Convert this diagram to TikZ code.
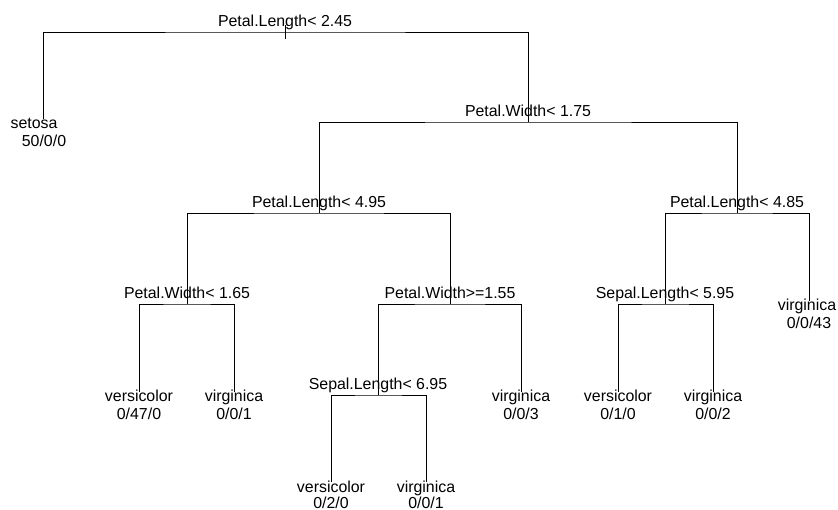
\documentclass[tikz,border=0pt]{standalone}
\usepackage{fontspec}
\setmainfont{Liberation Sans}
\usetikzlibrary{positioning}

\begin{document}
\begin{tikzpicture}[
x=1pt, y=-1pt,
every node/.style={font=\fontsize{15.9}{19}\selectfont, inner sep=0pt},
split/.style={anchor=base, yshift=5pt},
leaf/.style={anchor=base, yshift=-10pt},
count/.style={anchor=base, yshift=-28pt},
branch/.style={line width=0.85pt}
]
\useasboundingbox (0,0) rectangle (838,510);

% split points
\coordinate (root) at (285,32);
\coordinate (pw175) at (528,122);
\coordinate (pl495) at (319,213);
\coordinate (pl485) at (737,213);
\coordinate (pw165) at (187,304);
\coordinate (pw155) at (450,304);
\coordinate (sl595) at (665,304);
\coordinate (sl695) at (378,395);

% leaves
\coordinate (setosa) at (43,119);
\coordinate (virg43) at (809,301);
\coordinate (vers47) at (139,392);
\coordinate (virg1a) at (234,392);
\coordinate (virg3) at (521,392);
\coordinate (vers1) at (618,392);
\coordinate (virg2) at (713,392);
\coordinate (vers2) at (331,482);
\coordinate (virg1b) at (426,482);

\coordinate (rtop) at (285,25);
\coordinate (rbot) at (285,39);

\draw[branch] (rtop) -- (rbot);
\draw[branch] (setosa) |- (root) -| (pw175);
\draw[branch] (pl495) |- (pw175) -| (pl485);
\draw[branch] (pw165) |- (pl495) -| (pw155);
\draw[branch] (sl595) |- (pl485) -| (virg43);
\draw[branch] (vers47) |- (pw165) -| (virg1a);
\draw[branch] (sl695) |- (pw155) -| (virg3);
\draw[branch] (vers1) |- (sl595) -| (virg2);
\draw[branch] (vers2) |- (sl695) -| (virg1b);

\node[split] (lroot) at (root) {Petal.Length< 2.45};
\node[split] (lpw175) at (pw175) {Petal.Width< 1.75};
\node[split] (lpl495) at (pl495) {Petal.Length< 4.95};
\node[split] (lpl485) at (pl485) {Petal.Length< 4.85};
\node[split] (lpw165) at (pw165) {Petal.Width< 1.65};
\node[split] (lpw155) at (pw155) {Petal.Width>=1.55};
\node[split] (lsl595) at (sl595) {Sepal.Length< 5.95};
\node[split] (lsl695) at (sl695) {Sepal.Length< 6.95};

\node[leaf, xshift=-9pt] (tsetosa) at (setosa) {setosa};
\node[count, xshift=1pt] (nsetosa) at (setosa) {50/0/0};
\node[leaf, xshift=-2pt] (tvirg43) at (virg43) {virginica};
\node[count] (nvirg43) at (virg43) {0/0/43};
\node[leaf] (tvers47) at (vers47) {versicolor};
\node[count] (nvers47) at (vers47) {0/47/0};
\node[leaf] (tvirg1a) at (virg1a) {virginica};
\node[count] (nvirg1a) at (virg1a) {0/0/1};
\node[leaf] (tvirg3) at (virg3) {virginica};
\node[count] (nvirg3) at (virg3) {0/0/3};
\node[leaf] (tvers1) at (vers1) {versicolor};
\node[count] (nvers1) at (vers1) {0/1/0};
\node[leaf] (tvirg2) at (virg2) {virginica};
\node[count] (nvirg2) at (virg2) {0/0/2};
\node[leaf] (tvers2) at (vers2) {versicolor};
\node[count, yshift=2pt] (nvers2) at (vers2) {0/2/0};
\node[leaf] (tvirg1b) at (virg1b) {virginica};
\node[count, yshift=2pt] (nvirg1b) at (virg1b) {0/0/1};

\end{tikzpicture}
\end{document}
